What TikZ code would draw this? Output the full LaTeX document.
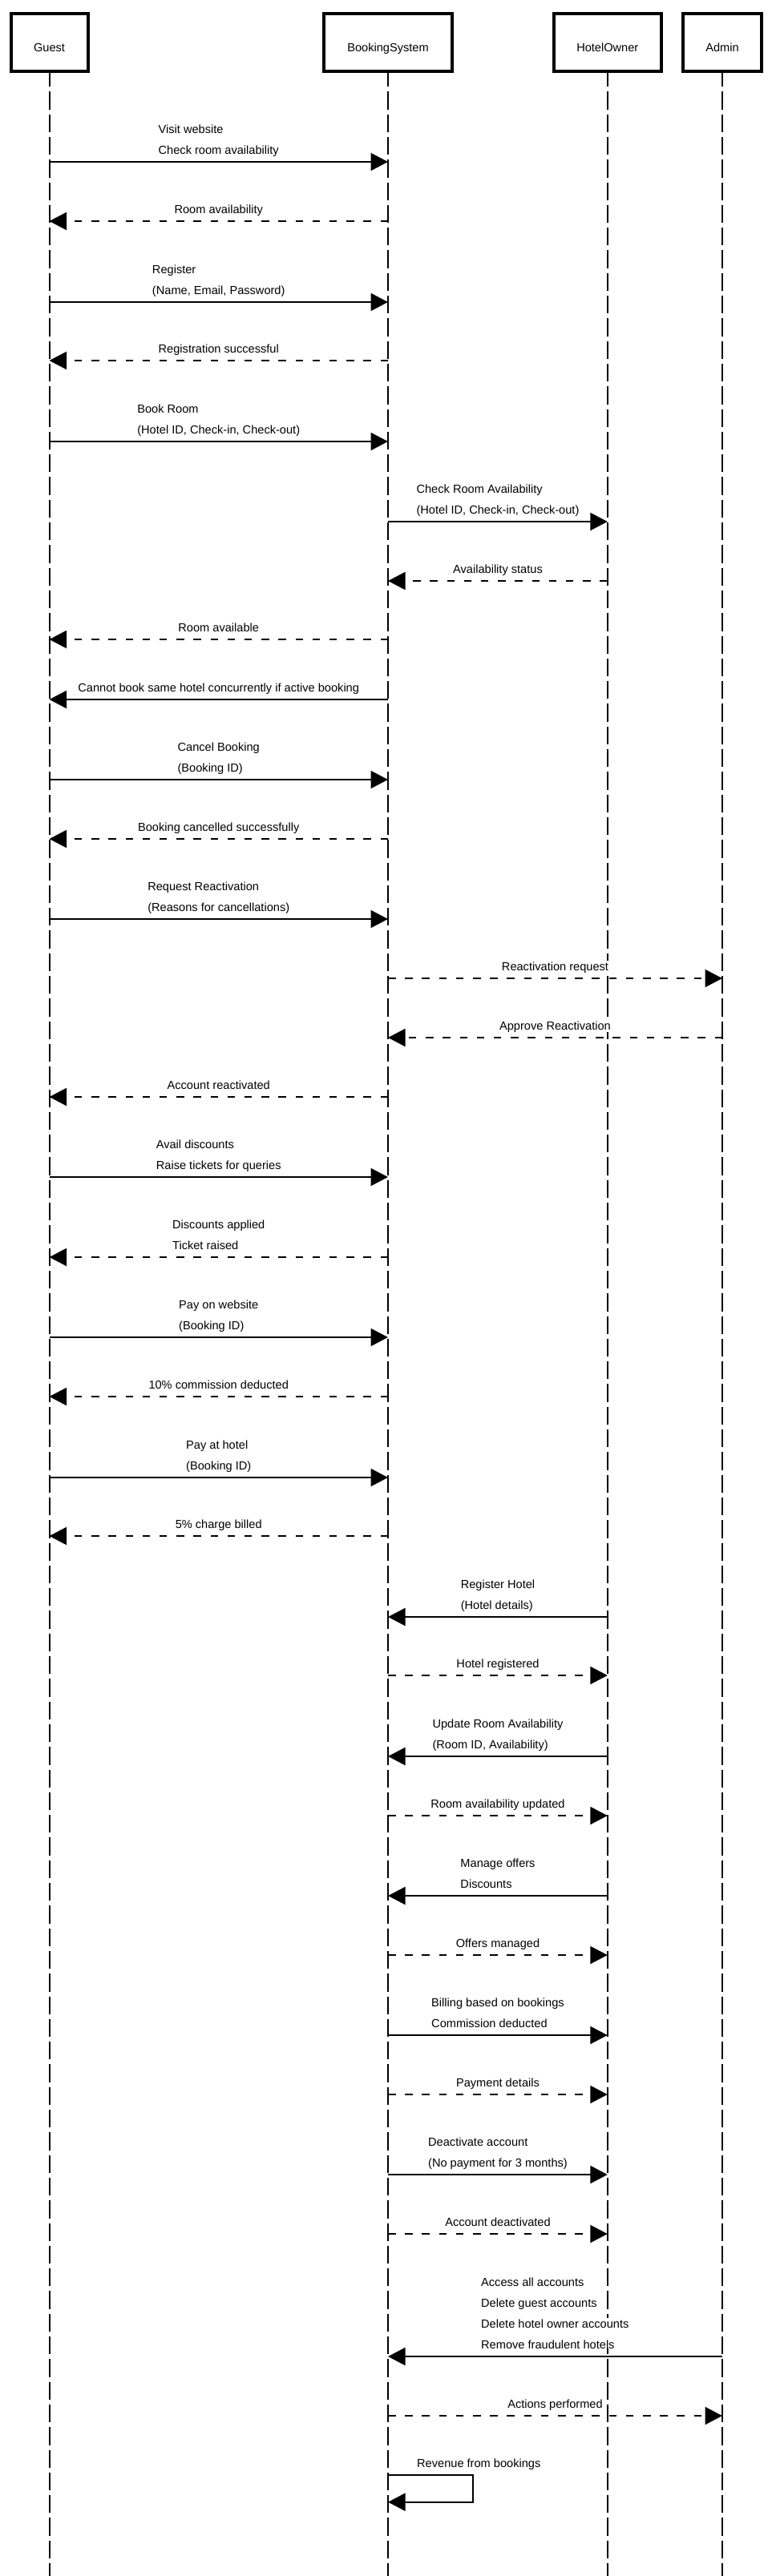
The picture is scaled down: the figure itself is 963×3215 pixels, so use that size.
\documentclass[tikz,border=0pt]{standalone}
\usepackage{fontspec}
\setmainfont{Liberation Sans}
\usetikzlibrary{arrows.meta}
\newcommand\msgfont{\fontsize{14.6pt}{26pt}\selectfont}
\newcommand\tstrut{\rule{0pt}{12pt}}
\begin{document}
\begin{tikzpicture}[x=1pt,y=-1pt,
  actor/.style={draw, line width=4pt, minimum width=#1, minimum height=71.7pt,
    inner sep=0pt, outer sep=0pt, text height=22.3pt, text depth=0pt, font=\msgfont},
  lifeline/.style={line width=2pt, dash pattern=on 22.3pt off 6pt, dash phase=2.7pt},
  call/.style={line width=2pt, -{Triangle[length=21.5pt,width=22pt]}},
  reply/.style={line width=2pt, dash pattern=on 9.5pt off 11.7pt, -{Triangle[length=21.5pt,width=22pt]}},
  msg/.style={font=\msgfont, align=left, anchor=north, inner sep=0pt, fill=white},
  msgl/.style={font=\msgfont, align=left, anchor=north west, inner sep=0pt, fill=white}]
\useasboundingbox (0,0) rectangle (963,3215);

% actors
\node[actor=96pt] (guest) at (61.5,52.85) {Guest};
\node[actor=160pt] (bs) at (484,52.85) {BookingSystem};
\node[actor=134.4pt] (ho) at (757.8,52.85) {HotelOwner};
\node[actor=98.7pt] (admin) at (901,52.85) {Admin};

% lifeline ends
\coordinate (gend) at (61.5,3215);
\coordinate (bend) at (484,3215);
\coordinate (hend) at (757.8,3215);
\coordinate (aend) at (901,3215);
\draw[lifeline] (guest.south) -- (gend);
\draw[lifeline] (bs.south) -- (bend);
\draw[lifeline] (ho.south) -- (hend);
\draw[lifeline] (admin.south) -- (aend);

% message levels
\foreach \n/\y in {1/202,2/276,3/377,4/450,5/551,6/651,7/725,8/798,9/873,10/973,
  11/1047,12/1147,13/1221,14/1295,15/1369,16/1469,17/1569,18/1669,19/1743,20/1844,
  21/1917,22/2018,23/2091,24/2192,25/2266,26/2366,27/2440,28/2540,29/2614,30/2714,
  31/2788,32/2941,33/3015,34/3089.3,35/3122.7}
  {\coordinate (m\n) at (0,\y);}
\coordinate (loopa) at (589.5,3089.3);
\coordinate (loopb) at (589.5,3122.7);

% arrows
\draw[call]  (guest |- m1) -- (bs |- m1);
\draw[reply] (bs |- m2) -- (guest |- m2);
\draw[call]  (guest |- m3) -- (bs |- m3);
\draw[reply] (bs |- m4) -- (guest |- m4);
\draw[call]  (guest |- m5) -- (bs |- m5);
\draw[call]  (bs |- m6) -- (ho |- m6);
\draw[reply] (ho |- m7) -- (bs |- m7);
\draw[reply] (bs |- m8) -- (guest |- m8);
\draw[call]  (bs |- m9) -- (guest |- m9);
\draw[call]  (guest |- m10) -- (bs |- m10);
\draw[reply] (bs |- m11) -- (guest |- m11);
\draw[call]  (guest |- m12) -- (bs |- m12);
\draw[reply] (bs |- m13) -- (admin |- m13);
\draw[reply] (admin |- m14) -- (bs |- m14);
\draw[reply] (bs |- m15) -- (guest |- m15);
\draw[call]  (guest |- m16) -- (bs |- m16);
\draw[reply] (bs |- m17) -- (guest |- m17);
\draw[call]  (guest |- m18) -- (bs |- m18);
\draw[reply] (bs |- m19) -- (guest |- m19);
\draw[call]  (guest |- m20) -- (bs |- m20);
\draw[reply] (bs |- m21) -- (guest |- m21);
\draw[call]  (ho |- m22) -- (bs |- m22);
\draw[reply] (bs |- m23) -- (ho |- m23);
\draw[call]  (ho |- m24) -- (bs |- m24);
\draw[reply] (bs |- m25) -- (ho |- m25);
\draw[call]  (ho |- m26) -- (bs |- m26);
\draw[reply] (bs |- m27) -- (ho |- m27);
\draw[call]  (bs |- m28) -- (ho |- m28);
\draw[reply] (bs |- m29) -- (ho |- m29);
\draw[call]  (bs |- m30) -- (ho |- m30);
\draw[reply] (bs |- m31) -- (ho |- m31);
\draw[call]  (admin |- m32) -- (bs |- m32);
\draw[reply] (bs |- m33) -- (admin |- m33);
\draw[call]  (bs |- m34) -- (loopa) -- (loopb) -- (bs |- m35);

% labels
\node[msg] (l1) at (272.75,154) {\tstrut Visit website\\Check room availability};
\node[msg] (l2) at (272.75,254) {\tstrut Room availability};
\node[msg] (l3) at (272.75,329) {\tstrut Register\\(Name, Email, Password)};
\node[msg] (l4) at (272.75,428) {\tstrut Registration successful};
\node[msg] (l5) at (272.75,503) {\tstrut Book Room\\(Hotel ID, Check-in, Check-out)};
\node[msg] (l6) at (621,603) {\tstrut Check Room Availability\\(Hotel ID, Check-in, Check-out)};
\node[msg] (l7) at (621,703) {\tstrut Availability status};
\node[msg] (l8) at (272.75,776) {\tstrut Room available};
\node[msg] (l9) at (272.75,851) {\tstrut Cannot book same hotel concurrently if active booking};
\node[msg] (l10) at (272.75,925) {\tstrut Cancel Booking\\(Booking ID)};
\node[msg] (l11) at (272.75,1025) {\tstrut Booking cancelled successfully};
\node[msg] (l12) at (272.75,1099) {\tstrut Request Reactivation\\(Reasons for cancellations)};
\node[msg] (l13) at (692.5,1199) {\tstrut Reactivation request};
\node[msg] (l14) at (692.5,1273) {\tstrut Approve Reactivation};
\node[msg] (l15) at (272.75,1347) {\tstrut Account reactivated};
\node[msg] (l16) at (272.75,1421) {\tstrut Avail discounts\\Raise tickets for queries};
\node[msg] (l17) at (272.75,1521) {\tstrut Discounts applied\\Ticket raised};
\node[msg] (l18) at (272.75,1621) {\tstrut Pay on website\\(Booking ID)};
\node[msg] (l19) at (272.75,1721) {\tstrut 10\% commission deducted};
\node[msg] (l20) at (272.75,1796) {\tstrut Pay at hotel\\(Booking ID)};
\node[msg] (l21) at (272.75,1895) {\tstrut 5\% charge billed};
\node[msg] (l22) at (621,1970) {\tstrut Register Hotel\\(Hotel details)};
\node[msg] (l23) at (621,2069) {\tstrut Hotel registered};
\node[msg] (l24) at (621,2144) {\tstrut Update Room Availability\\(Room ID, Availability)};
\node[msg] (l25) at (621,2244) {\tstrut Room availability updated};
\node[msg] (l26) at (621,2318) {\tstrut Manage offers\\Discounts};
\node[msg] (l27) at (621,2418) {\tstrut Offers managed};
\node[msg] (l28) at (621,2492) {\tstrut Billing based on bookings\\Commission deducted};
\node[msg] (l29) at (621,2592) {\tstrut Payment details};
\node[msg] (l30) at (621,2666) {\tstrut Deactivate account\\(No payment for 3 months)};
\node[msg] (l31) at (621,2766) {\tstrut Account deactivated};
\node[msgl] (l32a) at (600,2841) {\tstrut Access all accounts\\Delete guest accounts};
\node[msgl] (l32b) at (600,2893) {\tstrut Delete hotel owner accounts\\Remove fraudulent hotels};
\node[msg] (l33) at (692.5,2993) {\tstrut Actions performed};
\node[font=\msgfont, anchor=base west, inner sep=0pt] (l34) at (520,3079) {Revenue from bookings};
\end{tikzpicture}
\end{document}
